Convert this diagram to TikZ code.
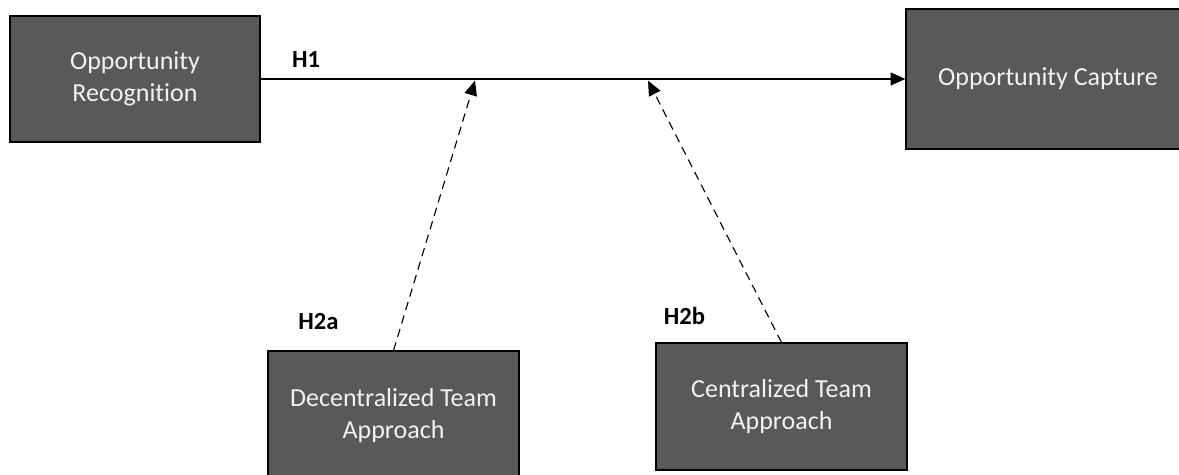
\documentclass[tikz,border=0pt]{standalone}
\usepackage{fontspec}
\setmainfont{Carlito}[Ligatures=NoCommon]
\usepackage{tikz}
\usetikzlibrary{arrows.meta, positioning}
\definecolor{boxGray}{HTML}{595959}
\definecolor{boxText}{HTML}{F2F2F2}

\begin{document}
\begin{tikzpicture}[
    % ── shared styles ───────────────────────────────────────────────
    construct/.style={
        rectangle, fill=boxGray, draw=black, line width=0.8pt,
        font=\fontsize{18.5}{23}\selectfont, text=boxText,
        align=center, inner sep=0pt,
    },
    hyp label/.style={
        font=\fontsize{17.5}{20}\selectfont\bfseries, text=black,
    },
    main link/.style={
        -{Triangle[length=10.5pt,width=9pt]}, black, line width=1.3pt,
    },
    moderator link/.style={
        -{Triangle[length=10.5pt,width=9pt]}, black, line width=0.8pt,
        dash pattern=on 6pt off 4pt,
    },
]
\clip (0,0) rectangle (29.475,11.875);

% =============================================================
%  CONSTRUCTS
% =============================================================
\node[construct, minimum width=6.25cm, minimum height=3.15cm] (recog)
    at (3.375, 9.9) {Opportunity\\Recognition};

\node[construct, minimum width=7.1cm, minimum height=3.5cm] (capture)
    at (26.2, 9.9) {Opportunity Capture};

\node[construct, minimum width=6.275cm, minimum height=3.225cm] (decent)
    at (9.8375, 1.4875) {Decentralized Team\\Approach};

\node[construct, minimum width=6.275cm, minimum height=3.175cm] (cent)
    at (19.5375, 1.7125) {Centralized Team\\Approach};

% points on the main path hit by the moderators
\coordinate (hitA) at (11.875, 9.86);
\coordinate (hitB) at (16.2, 9.86);

% =============================================================
%  PATHS
% =============================================================
\draw[main link] (recog.east) -- (capture.west);
\draw[moderator link] (decent.north) -- (hitA);
\draw[moderator link] (cent.north) -- (hitB);

% hypothesis labels
\node[hyp label] (h1) at (7.65, 10.375) {H1};
\node[hyp label] (h2a) at (7.9625, 3.825) {H2a};
\node[hyp label] (h2b) at (17.1125, 3.975) {H2b};

\end{tikzpicture}
\end{document}
